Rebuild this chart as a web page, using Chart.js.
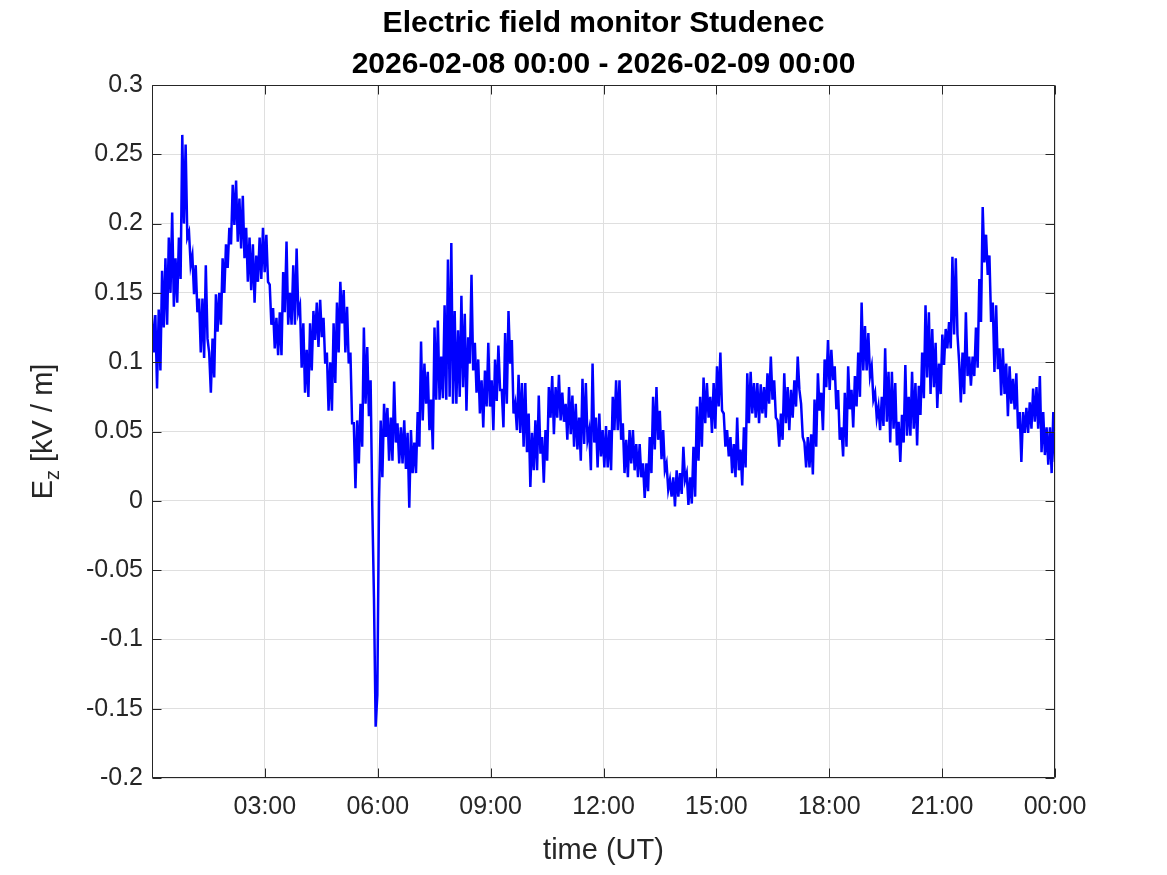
<!DOCTYPE html>
<html>
<head>
<meta charset="utf-8">
<script src="https://cdn.jsdelivr.net/npm/chart.js@4/dist/chart.umd.min.js"></script>
<style>
  html, body { margin: 0; padding: 0; background: #ffffff; }
  #wrap { width: 1167px; height: 875px; }
</style>
</head>
<body>
<div id="wrap"><canvas id="c" width="1167" height="875"></canvas></div>
<script>
// ---- Chart texts ----
const titleLines = ["Electric field monitor Studenec", "2026-02-08 00:00 - 2026-02-09 00:00"];
const xAxisTitle = "time (UT)";
const yAxisTitleMain = "E";
const yAxisTitleSub = "z";
const yAxisTitleRest = " [kV / m]";

// ---- Axis ticks ----
const xTickHours = [0, 3, 6, 9, 12, 15, 18, 21, 24];
const xTickLabels = ["", "03:00", "06:00", "09:00", "12:00", "15:00", "18:00", "21:00", "00:00"];
const yTickValues = [-0.2, -0.15, -0.1, -0.05, 0, 0.05, 0.1, 0.15, 0.2, 0.25, 0.3];
const yTickLabels = ["-0.2", "-0.15", "-0.1", "-0.05", "0", "0.05", "0.1", "0.15", "0.2", "0.25", "0.3"];

// ---- Time span (hours, UT) ----
const timeStartHour = 0;
const timeEndHour = 24;

// ---- Ez values [kV/m], evenly spaced in time over the day ----
const ezValues = [
  0.134,0.107, 0.134,0.081, 0.138,0.094, 0.166,0.125, 0.175,0.127, 0.19,0.15, 0.208,0.14, 0.175,0.143,
  0.19,0.16, 0.264,0.2, 0.257,0.19, 0.194,0.17, 0.177,0.149, 0.17,0.136, 0.146,0.107, 0.146,0.103,
  0.17,0.117, 0.107,0.078, 0.117,0.089, 0.149,0.122, 0.15,0.127, 0.175,0.15, 0.185,0.168, 0.197,0.185,
  0.228,0.199, 0.231,0.187, 0.218,0.182, 0.22,0.175, 0.197,0.158, 0.19,0.152, 0.185,0.143, 0.177,0.158,
  0.19,0.16, 0.197,0.165, 0.192,0.158, 0.156,0.127, 0.139,0.11, 0.132,0.105, 0.136,0.105, 0.165,0.136,
  0.187,0.127, 0.15,0.127, 0.17,0.127, 0.182,0.136, 0.141,0.096,
  0.128,0.078, 0.109,0.075, 0.128,0.094, 0.137,0.116, 0.143,0.111, 0.145,0.118, 0.132,0.099, 0.107,0.065,
  0.1,0.065, 0.128,0.085, 0.143,0.107, 0.158,0.128, 0.152,0.107, 0.14,0.099, 0.107,0.056, 0.056,0.009,
  0.058,0.027, 0.07,0.039, 0.125,0.07, 0.111,0.061, 0.087,-0.004, -0.07,-0.163, -0.14,0.0, 0.058,0.017,
  0.07,0.046, 0.067,0.029, 0.06,0.029, 0.086,0.042, 0.056,0.027, 0.053,0.027, 0.058,0.023, 0.049,-0.005,
  0.051,0.02, 0.042,0.02, 0.064,0.039, 0.115,0.058, 0.099,0.07, 0.093,0.051, 0.073,0.037, 0.125,0.073,
  0.13,0.073, 0.104,0.074, 0.141,0.073,
  0.174,0.075, 0.186,0.07, 0.137,0.07, 0.123,0.075, 0.148,0.082, 0.135,0.065, 0.118,0.099, 0.163,0.094,
  0.114,0.078, 0.102,0.063, 0.087,0.053, 0.094,0.068, 0.114,0.068, 0.087,0.051, 0.102,0.072, 0.112,0.08,
  0.08,0.053, 0.121,0.07, 0.137,0.099, 0.116,0.063, 0.07,0.051, 0.091,0.049, 0.085,0.039, 0.085,0.035,
  0.063,0.01, 0.049,0.022, 0.058,0.022, 0.076,0.034, 0.046,0.013, 0.051,0.029, 0.082,0.06, 0.09,0.048,
  0.082,0.06, 0.091,0.058, 0.078,0.057, 0.07,0.044, 0.082,0.048, 0.076,0.039, 0.07,0.037, 0.06,0.029,
  0.088,0.041, 0.085,0.044, 0.051,0.022,
  0.099,0.042, 0.06,0.024, 0.063,0.032, 0.051,0.024, 0.054,0.024, 0.051,0.022, 0.075,0.051, 0.087,0.051,
  0.087,0.044, 0.056,0.02, 0.044,0.017, 0.051,0.027, 0.051,0.022, 0.041,0.017, 0.041,0.017, 0.027,0.002,
  0.027,0.007, 0.046,0.02, 0.075,0.037, 0.082,0.044, 0.065,0.03, 0.051,0.022, 0.027,0.008, 0.015,0.003,
  0.017,-0.004, 0.022,0.003, 0.02,0.005, 0.039,0.015, 0.02,-0.003, 0.017,-0.002, 0.039,0.003, 0.068,0.029,
  0.075,0.039, 0.089,0.056, 0.085,0.06, 0.075,0.049, 0.085,0.052, 0.097,0.068, 0.107,0.065, 0.063,0.039,
  0.051,0.032, 0.046,0.02, 0.041,0.017,
  0.06,0.022, 0.037,0.011, 0.053,0.024, 0.092,0.056, 0.093,0.063, 0.085,0.06, 0.085,0.056, 0.084,0.063,
  0.082,0.06, 0.092,0.07, 0.104,0.073, 0.087,0.06, 0.058,0.039, 0.063,0.044, 0.092,0.056, 0.082,0.051,
  0.08,0.06, 0.087,0.068, 0.104,0.08, 0.07,0.046, 0.042,0.024, 0.046,0.024, 0.048,0.019, 0.073,0.039,
  0.092,0.065, 0.078,0.051, 0.102,0.082, 0.116,0.08, 0.109,0.087, 0.097,0.066, 0.08,0.044, 0.053,0.032,
  0.078,0.039, 0.097,0.066, 0.08,0.053, 0.09,0.068, 0.107,0.075, 0.143,0.094, 0.126,0.094, 0.121,0.09,
  0.097,0.073, 0.078,0.06, 0.068,0.051,
  0.075,0.054, 0.11,0.057, 0.093,0.042, 0.093,0.052, 0.085,0.04, 0.057,0.028, 0.062,0.042, 0.098,0.047,
  0.075,0.047, 0.093,0.052, 0.085,0.04, 0.083,0.062, 0.107,0.074, 0.141,0.089, 0.136,0.077, 0.124,0.082,
  0.114,0.067, 0.099,0.077, 0.12,0.098, 0.124,0.11, 0.129,0.11, 0.176,0.12, 0.175,0.12, 0.1,0.071,
  0.107,0.077, 0.136,0.09, 0.104,0.083, 0.104,0.09, 0.125,0.096, 0.16,0.129, 0.212,0.172, 0.192,0.163,
  0.177,0.129, 0.143,0.093, 0.141,0.095, 0.11,0.076, 0.11,0.077, 0.099,0.061, 0.097,0.07, 0.088,0.066,
  0.092,0.052, 0.064,0.028, 0.064,0.049, 0.067,0.049, 0.071,0.052, 0.081,0.057, 0.082,0.052, 0.09,0.035,
  0.064,0.033, 0.053,0.026, 0.053,0.02, 0.064,0.028
];

// ---- build points (time in hours) ----
const stepH = (timeEndHour - timeStartHour) / (ezValues.length - 1);
const points = ezValues.map((v, i) => ({ x: timeStartHour + i * stepH, y: v }));

const FONT = '"Liberation Sans", Arial, Helvetica, sans-serif';
const AXIS_COLOR = '#262626';
const GRID_COLOR = '#dfdfdf';

const framePlugin = {
  id: 'framePlugin',
  afterDraw(chart) {
    const ctx = chart.ctx;
    const a = chart.chartArea;
    const xs = chart.scales.x, ys = chart.scales.y;
    const L = Math.round(a.left) + 0.5, R = Math.round(a.right) - 0.5;
    const T = Math.round(a.top) + 0.5, B = Math.round(a.bottom) - 0.5;
    ctx.save();
    ctx.strokeStyle = AXIS_COLOR;
    ctx.lineWidth = 1;
    ctx.beginPath();
    ctx.rect(L, T, R - L, B - T);
    ctx.stroke();
    const tl = 9;
    ctx.beginPath();
    yTickValues.forEach(v => {
      const y = Math.round(ys.getPixelForValue(v)) + 0.5;
      ctx.moveTo(L, y); ctx.lineTo(L + tl, y);
      ctx.moveTo(R, y); ctx.lineTo(R - tl, y);
    });
    xTickHours.forEach(h => {
      const x = Math.round(xs.getPixelForValue(h)) + 0.5;
      ctx.moveTo(x, B); ctx.lineTo(x, B - tl);
      ctx.moveTo(x, T); ctx.lineTo(x, T + tl);
    });
    ctx.stroke();

    // Title
    const cx = (a.left + a.right) / 2;
    ctx.fillStyle = '#000000';
    ctx.textAlign = 'center';
    ctx.textBaseline = 'middle';
    ctx.font = 'bold 30px ' + FONT;
    ctx.fillText(titleLines[0], cx, 24);
    ctx.fillText(titleLines[1], cx, 65);

    // X axis title
    ctx.fillStyle = AXIS_COLOR;
    ctx.font = '29px ' + FONT;
    ctx.fillText(xAxisTitle, cx, 851);

    // Y axis title with subscript
    const mainFont = '29px ' + FONT, subFont = '20px ' + FONT;
    ctx.font = mainFont; const w1 = ctx.measureText(yAxisTitleMain).width;
    const w3 = ctx.measureText(yAxisTitleRest).width;
    ctx.font = subFont; const w2 = ctx.measureText(yAxisTitleSub).width;
    const total = w1 + w2 + w3;
    ctx.translate(42, (a.top + a.bottom) / 2);
    ctx.rotate(-Math.PI / 2);
    ctx.textAlign = 'left';
    ctx.textBaseline = 'alphabetic';
    let px = -total / 2;
    const base = 10;
    ctx.font = mainFont; ctx.fillText(yAxisTitleMain, px, base); px += w1;
    ctx.font = subFont; ctx.fillText(yAxisTitleSub, px, base + 7); px += w2;
    ctx.font = mainFont; ctx.fillText(yAxisTitleRest, px, base);
    ctx.restore();
  }
};

new Chart(document.getElementById('c'), {
  type: 'line',
  data: {
    datasets: [{
      data: points,
      borderColor: '#0000ff',
      borderWidth: 2.5,
      pointRadius: 0,
      tension: 0,
      fill: false
    }]
  },
  options: {
    responsive: false,
    animation: false,
    devicePixelRatio: 1,
    parsing: false,
    layout: { padding: { top: 85, right: 112, left: 0, bottom: 0 } },
    plugins: { legend: { display: false }, title: { display: false }, tooltip: { enabled: false } },
    scales: {
      x: {
        type: 'linear',
        min: timeStartHour, max: timeEndHour,
        afterFit: s => { s.height = 97; },
        afterBuildTicks: s => { s.ticks = xTickHours.map(v => ({ value: v })); },
        grid: { color: GRID_COLOR, lineWidth: 1, drawTicks: false },
        border: { display: false },
        ticks: {
          padding: 14,
          color: AXIS_COLOR,
          font: { family: FONT, size: 25 },
          maxRotation: 0,
          autoSkip: false,
          callback: (v) => { const i = xTickHours.indexOf(v); return i >= 0 ? xTickLabels[i] : ''; }
        }
      },
      y: {
        type: 'linear',
        min: yTickValues[0], max: yTickValues[yTickValues.length - 1],
        afterFit: s => { s.width = 152; },
        afterBuildTicks: s => { s.ticks = yTickValues.map(v => ({ value: v })); },
        grid: { color: GRID_COLOR, lineWidth: 1, drawTicks: false },
        border: { display: false },
        ticks: {
          padding: 9,
          color: AXIS_COLOR,
          font: { family: FONT, size: 25 },
          autoSkip: false,
          callback: (v) => { const i = yTickValues.findIndex(t => Math.abs(t - v) < 1e-9); return i >= 0 ? yTickLabels[i] : ''; }
        }
      }
    }
  },
  plugins: [framePlugin]
});
</script>
</body>
</html>
